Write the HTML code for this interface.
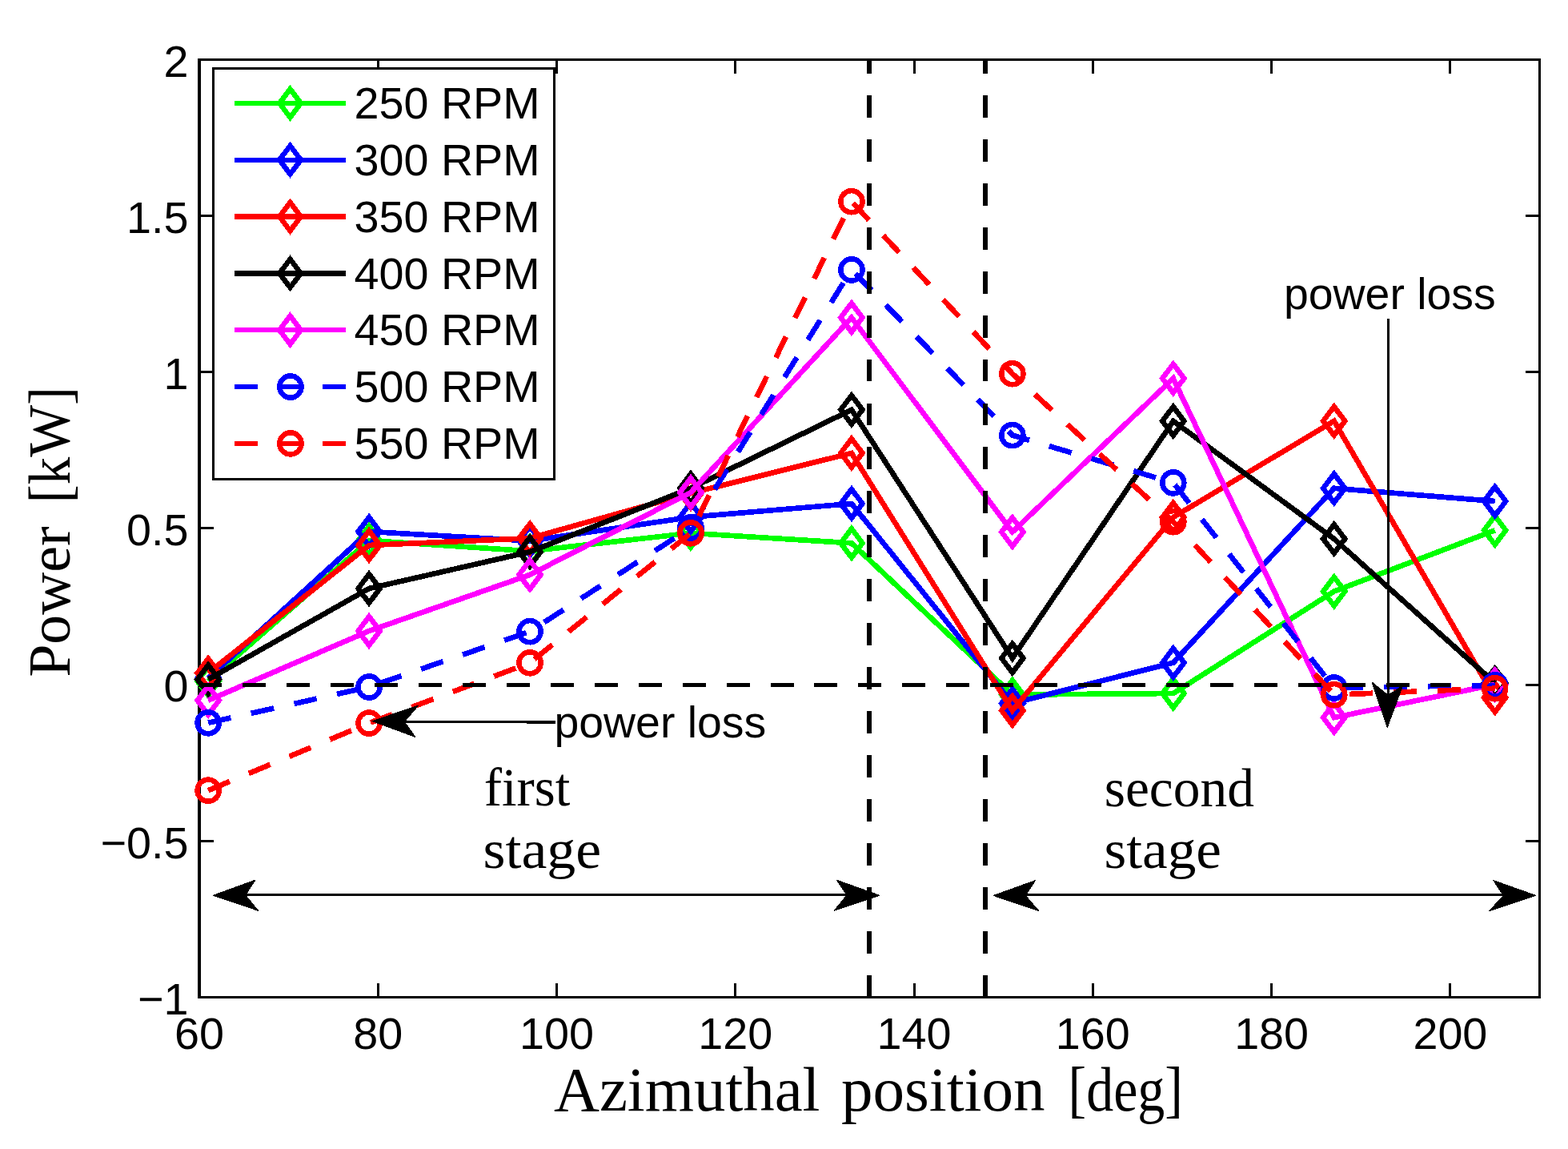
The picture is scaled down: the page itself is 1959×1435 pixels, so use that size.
<!DOCTYPE html>
<html><head><meta charset="utf-8"><title>Power vs azimuthal position</title>
<style>html,body{margin:0;padding:0;background:#fff;}body{width:1959px;height:1435px;overflow:hidden;}svg{display:block;}</style>
</head><body>
<svg shape-rendering="crispEdges" width="1959" height="1435" viewBox="0 0 1959 1435">
<rect x="0" y="0" width="1959" height="1435" fill="#fff"/>
<g stroke="#000" stroke-width="3.2" fill="none" stroke-linecap="square">
<rect x="249" y="74.4" width="1674.5" height="1171.1"/>
</g>
<g stroke="#000" stroke-width="3" fill="none">
<line x1="249" y1="1245.5" x2="249" y2="1227.7"/>
<line x1="249" y1="74.4" x2="249" y2="92.2"/>
<line x1="472.27" y1="1245.5" x2="472.27" y2="1227.7"/>
<line x1="472.27" y1="74.4" x2="472.27" y2="92.2"/>
<line x1="695.53" y1="1245.5" x2="695.53" y2="1227.7"/>
<line x1="695.53" y1="74.4" x2="695.53" y2="92.2"/>
<line x1="918.8" y1="1245.5" x2="918.8" y2="1227.7"/>
<line x1="918.8" y1="74.4" x2="918.8" y2="92.2"/>
<line x1="1142.07" y1="1245.5" x2="1142.07" y2="1227.7"/>
<line x1="1142.07" y1="74.4" x2="1142.07" y2="92.2"/>
<line x1="1365.33" y1="1245.5" x2="1365.33" y2="1227.7"/>
<line x1="1365.33" y1="74.4" x2="1365.33" y2="92.2"/>
<line x1="1588.6" y1="1245.5" x2="1588.6" y2="1227.7"/>
<line x1="1588.6" y1="74.4" x2="1588.6" y2="92.2"/>
<line x1="1811.87" y1="1245.5" x2="1811.87" y2="1227.7"/>
<line x1="1811.87" y1="74.4" x2="1811.87" y2="92.2"/>
<line x1="249" y1="1245.5" x2="266.8" y2="1245.5"/>
<line x1="1923.5" y1="1245.5" x2="1905.7" y2="1245.5"/>
<line x1="249" y1="1050.32" x2="266.8" y2="1050.32"/>
<line x1="1923.5" y1="1050.32" x2="1905.7" y2="1050.32"/>
<line x1="249" y1="855.13" x2="266.8" y2="855.13"/>
<line x1="1923.5" y1="855.13" x2="1905.7" y2="855.13"/>
<line x1="249" y1="659.95" x2="266.8" y2="659.95"/>
<line x1="1923.5" y1="659.95" x2="1905.7" y2="659.95"/>
<line x1="249" y1="464.77" x2="266.8" y2="464.77"/>
<line x1="1923.5" y1="464.77" x2="1905.7" y2="464.77"/>
<line x1="249" y1="269.58" x2="266.8" y2="269.58"/>
<line x1="1923.5" y1="269.58" x2="1905.7" y2="269.58"/>
<line x1="249" y1="74.4" x2="266.8" y2="74.4"/>
<line x1="1923.5" y1="74.4" x2="1905.7" y2="74.4"/>
</g>
<g font-family="'Liberation Sans', Arial, Helvetica, sans-serif" font-size="55.7" fill="#000">
<text x="249" y="1310.3" text-anchor="middle">60</text>
<text x="472.27" y="1310.3" text-anchor="middle">80</text>
<text x="695.53" y="1310.3" text-anchor="middle">100</text>
<text x="918.8" y="1310.3" text-anchor="middle">120</text>
<text x="1142.07" y="1310.3" text-anchor="middle">140</text>
<text x="1365.33" y="1310.3" text-anchor="middle">160</text>
<text x="1588.6" y="1310.3" text-anchor="middle">180</text>
<text x="1811.87" y="1310.3" text-anchor="middle">200</text>
<text x="235.5" y="95.6" text-anchor="end">2</text>
<text x="235.5" y="290.78" text-anchor="end">1.5</text>
<text x="235.5" y="485.97" text-anchor="end">1</text>
<text x="235.5" y="681.15" text-anchor="end">0.5</text>
<text x="235.5" y="876.33" text-anchor="end">0</text>
<text x="235.5" y="1071.52" text-anchor="end">−0.5</text>
<text x="235.5" y="1266.7" text-anchor="end">−1</text>
</g>
<g font-family="'Liberation Serif', 'Times New Roman', serif" font-size="78" fill="#000">
<text x="692" y="1386.5" textLength="332.5" lengthAdjust="spacingAndGlyphs">Azimuthal</text>
<text x="1050.9" y="1386.5" textLength="254.7" lengthAdjust="spacingAndGlyphs">position</text>
<text x="1334.6" y="1386.5" textLength="143.3" lengthAdjust="spacingAndGlyphs">[deg]</text>
</g>
<g transform="translate(86.6 845.6) rotate(-90)" font-family="'Liberation Serif', 'Times New Roman', serif" font-size="74" fill="#000">
<text x="0" y="0" textLength="188.2" lengthAdjust="spacingAndGlyphs">Power</text>
<text x="217.45" y="0" textLength="145.2" lengthAdjust="spacingAndGlyphs">[kW]</text>
</g>
<polyline points="260.16,850.6 461.1,675 662.04,688.3 862.98,665.8 1063.92,678.3 1264.86,867.6 1465.8,866 1666.74,738.6 1867.68,662.3" fill="none" stroke="#00ff00" stroke-width="6.7" stroke-linejoin="miter" stroke-linecap="butt"/>
<path d="M260.16 832.65L273.76 850.6L260.16 868.55L246.56 850.6Z" fill="none" stroke="#00ff00" stroke-width="6.5" stroke-linejoin="miter" stroke-miterlimit="10"/>
<path d="M461.1 657.05L474.7 675L461.1 692.95L447.5 675Z" fill="none" stroke="#00ff00" stroke-width="6.5" stroke-linejoin="miter" stroke-miterlimit="10"/>
<path d="M662.04 670.35L675.64 688.3L662.04 706.25L648.44 688.3Z" fill="none" stroke="#00ff00" stroke-width="6.5" stroke-linejoin="miter" stroke-miterlimit="10"/>
<path d="M862.98 647.85L876.58 665.8L862.98 683.75L849.38 665.8Z" fill="none" stroke="#00ff00" stroke-width="6.5" stroke-linejoin="miter" stroke-miterlimit="10"/>
<path d="M1063.92 660.35L1077.52 678.3L1063.92 696.25L1050.32 678.3Z" fill="none" stroke="#00ff00" stroke-width="6.5" stroke-linejoin="miter" stroke-miterlimit="10"/>
<path d="M1264.86 849.65L1278.46 867.6L1264.86 885.55L1251.26 867.6Z" fill="none" stroke="#00ff00" stroke-width="6.5" stroke-linejoin="miter" stroke-miterlimit="10"/>
<path d="M1465.8 848.05L1479.4 866L1465.8 883.95L1452.2 866Z" fill="none" stroke="#00ff00" stroke-width="6.5" stroke-linejoin="miter" stroke-miterlimit="10"/>
<path d="M1666.74 720.65L1680.34 738.6L1666.74 756.55L1653.14 738.6Z" fill="none" stroke="#00ff00" stroke-width="6.5" stroke-linejoin="miter" stroke-miterlimit="10"/>
<path d="M1867.68 644.35L1881.28 662.3L1867.68 680.25L1854.08 662.3Z" fill="none" stroke="#00ff00" stroke-width="6.5" stroke-linejoin="miter" stroke-miterlimit="10"/>
<polyline points="260.16,847 461.1,663.9 662.04,675.5 862.98,645.8 1063.92,629 1264.86,878.5 1465.8,827.7 1666.74,609.8 1867.68,626" fill="none" stroke="#0000ff" stroke-width="6.7" stroke-linejoin="miter" stroke-linecap="butt"/>
<path d="M260.16 829.05L273.76 847L260.16 864.95L246.56 847Z" fill="none" stroke="#0000ff" stroke-width="6.5" stroke-linejoin="miter" stroke-miterlimit="10"/>
<path d="M461.1 645.95L474.7 663.9L461.1 681.85L447.5 663.9Z" fill="none" stroke="#0000ff" stroke-width="6.5" stroke-linejoin="miter" stroke-miterlimit="10"/>
<path d="M662.04 657.55L675.64 675.5L662.04 693.45L648.44 675.5Z" fill="none" stroke="#0000ff" stroke-width="6.5" stroke-linejoin="miter" stroke-miterlimit="10"/>
<path d="M862.98 627.85L876.58 645.8L862.98 663.75L849.38 645.8Z" fill="none" stroke="#0000ff" stroke-width="6.5" stroke-linejoin="miter" stroke-miterlimit="10"/>
<path d="M1063.92 611.05L1077.52 629L1063.92 646.95L1050.32 629Z" fill="none" stroke="#0000ff" stroke-width="6.5" stroke-linejoin="miter" stroke-miterlimit="10"/>
<path d="M1264.86 860.55L1278.46 878.5L1264.86 896.45L1251.26 878.5Z" fill="none" stroke="#0000ff" stroke-width="6.5" stroke-linejoin="miter" stroke-miterlimit="10"/>
<path d="M1465.8 809.75L1479.4 827.7L1465.8 845.65L1452.2 827.7Z" fill="none" stroke="#0000ff" stroke-width="6.5" stroke-linejoin="miter" stroke-miterlimit="10"/>
<path d="M1666.74 591.85L1680.34 609.8L1666.74 627.75L1653.14 609.8Z" fill="none" stroke="#0000ff" stroke-width="6.5" stroke-linejoin="miter" stroke-miterlimit="10"/>
<path d="M1867.68 608.05L1881.28 626L1867.68 643.95L1854.08 626Z" fill="none" stroke="#0000ff" stroke-width="6.5" stroke-linejoin="miter" stroke-miterlimit="10"/>
<polyline points="260.16,840.5 461.1,681 662.04,672.2 862.98,615.9 1063.92,565.9 1264.86,887.4 1465.8,646 1666.74,525.8 1867.68,871.3" fill="none" stroke="#ff0000" stroke-width="6.7" stroke-linejoin="miter" stroke-linecap="butt"/>
<path d="M260.16 822.55L273.76 840.5L260.16 858.45L246.56 840.5Z" fill="none" stroke="#ff0000" stroke-width="6.5" stroke-linejoin="miter" stroke-miterlimit="10"/>
<path d="M461.1 663.05L474.7 681L461.1 698.95L447.5 681Z" fill="none" stroke="#ff0000" stroke-width="6.5" stroke-linejoin="miter" stroke-miterlimit="10"/>
<path d="M662.04 654.25L675.64 672.2L662.04 690.15L648.44 672.2Z" fill="none" stroke="#ff0000" stroke-width="6.5" stroke-linejoin="miter" stroke-miterlimit="10"/>
<path d="M862.98 597.95L876.58 615.9L862.98 633.85L849.38 615.9Z" fill="none" stroke="#ff0000" stroke-width="6.5" stroke-linejoin="miter" stroke-miterlimit="10"/>
<path d="M1063.92 547.95L1077.52 565.9L1063.92 583.85L1050.32 565.9Z" fill="none" stroke="#ff0000" stroke-width="6.5" stroke-linejoin="miter" stroke-miterlimit="10"/>
<path d="M1264.86 869.45L1278.46 887.4L1264.86 905.35L1251.26 887.4Z" fill="none" stroke="#ff0000" stroke-width="6.5" stroke-linejoin="miter" stroke-miterlimit="10"/>
<path d="M1465.8 628.05L1479.4 646L1465.8 663.95L1452.2 646Z" fill="none" stroke="#ff0000" stroke-width="6.5" stroke-linejoin="miter" stroke-miterlimit="10"/>
<path d="M1666.74 507.85L1680.34 525.8L1666.74 543.75L1653.14 525.8Z" fill="none" stroke="#ff0000" stroke-width="6.5" stroke-linejoin="miter" stroke-miterlimit="10"/>
<path d="M1867.68 853.35L1881.28 871.3L1867.68 889.25L1854.08 871.3Z" fill="none" stroke="#ff0000" stroke-width="6.5" stroke-linejoin="miter" stroke-miterlimit="10"/>
<polyline points="260.16,848.5 461.1,735 662.04,689.2 862.98,609.8 1063.92,511.8 1264.86,822 1465.8,525.9 1666.74,673 1867.68,853" fill="none" stroke="#000000" stroke-width="6.7" stroke-linejoin="miter" stroke-linecap="butt"/>
<path d="M260.16 830.55L273.76 848.5L260.16 866.45L246.56 848.5Z" fill="none" stroke="#000000" stroke-width="6.5" stroke-linejoin="miter" stroke-miterlimit="10"/>
<path d="M461.1 717.05L474.7 735L461.1 752.95L447.5 735Z" fill="none" stroke="#000000" stroke-width="6.5" stroke-linejoin="miter" stroke-miterlimit="10"/>
<path d="M662.04 671.25L675.64 689.2L662.04 707.15L648.44 689.2Z" fill="none" stroke="#000000" stroke-width="6.5" stroke-linejoin="miter" stroke-miterlimit="10"/>
<path d="M862.98 591.85L876.58 609.8L862.98 627.75L849.38 609.8Z" fill="none" stroke="#000000" stroke-width="6.5" stroke-linejoin="miter" stroke-miterlimit="10"/>
<path d="M1063.92 493.85L1077.52 511.8L1063.92 529.75L1050.32 511.8Z" fill="none" stroke="#000000" stroke-width="6.5" stroke-linejoin="miter" stroke-miterlimit="10"/>
<path d="M1264.86 804.05L1278.46 822L1264.86 839.95L1251.26 822Z" fill="none" stroke="#000000" stroke-width="6.5" stroke-linejoin="miter" stroke-miterlimit="10"/>
<path d="M1465.8 507.95L1479.4 525.9L1465.8 543.85L1452.2 525.9Z" fill="none" stroke="#000000" stroke-width="6.5" stroke-linejoin="miter" stroke-miterlimit="10"/>
<path d="M1666.74 655.05L1680.34 673L1666.74 690.95L1653.14 673Z" fill="none" stroke="#000000" stroke-width="6.5" stroke-linejoin="miter" stroke-miterlimit="10"/>
<path d="M1867.68 835.05L1881.28 853L1867.68 870.95L1854.08 853Z" fill="none" stroke="#000000" stroke-width="6.5" stroke-linejoin="miter" stroke-miterlimit="10"/>
<polyline points="260.16,874.7 461.1,788 662.04,717.8 862.98,615 1063.92,396.7 1264.86,664.4 1465.8,472.6 1666.74,896.2 1867.68,854.9" fill="none" stroke="#ff00ff" stroke-width="6.7" stroke-linejoin="miter" stroke-linecap="butt"/>
<path d="M260.16 856.75L273.76 874.7L260.16 892.65L246.56 874.7Z" fill="none" stroke="#ff00ff" stroke-width="6.5" stroke-linejoin="miter" stroke-miterlimit="10"/>
<path d="M461.1 770.05L474.7 788L461.1 805.95L447.5 788Z" fill="none" stroke="#ff00ff" stroke-width="6.5" stroke-linejoin="miter" stroke-miterlimit="10"/>
<path d="M662.04 699.85L675.64 717.8L662.04 735.75L648.44 717.8Z" fill="none" stroke="#ff00ff" stroke-width="6.5" stroke-linejoin="miter" stroke-miterlimit="10"/>
<path d="M862.98 597.05L876.58 615L862.98 632.95L849.38 615Z" fill="none" stroke="#ff00ff" stroke-width="6.5" stroke-linejoin="miter" stroke-miterlimit="10"/>
<path d="M1063.92 378.75L1077.52 396.7L1063.92 414.65L1050.32 396.7Z" fill="none" stroke="#ff00ff" stroke-width="6.5" stroke-linejoin="miter" stroke-miterlimit="10"/>
<path d="M1264.86 646.45L1278.46 664.4L1264.86 682.35L1251.26 664.4Z" fill="none" stroke="#ff00ff" stroke-width="6.5" stroke-linejoin="miter" stroke-miterlimit="10"/>
<path d="M1465.8 454.65L1479.4 472.6L1465.8 490.55L1452.2 472.6Z" fill="none" stroke="#ff00ff" stroke-width="6.5" stroke-linejoin="miter" stroke-miterlimit="10"/>
<path d="M1666.74 878.25L1680.34 896.2L1666.74 914.15L1653.14 896.2Z" fill="none" stroke="#ff00ff" stroke-width="6.5" stroke-linejoin="miter" stroke-miterlimit="10"/>
<path d="M1867.68 836.95L1881.28 854.9L1867.68 872.85L1854.08 854.9Z" fill="none" stroke="#ff00ff" stroke-width="6.5" stroke-linejoin="miter" stroke-miterlimit="10"/>
<polyline points="260.16,902.8 461.1,858 662.04,788.7 862.98,659 1063.92,336.9 1264.86,543.6 1465.8,602.9 1666.74,859 1867.68,855.9" fill="none" stroke="#0000ff" stroke-width="6.7" stroke-linejoin="miter" stroke-linecap="butt" stroke-dasharray="29 25.94"/>
<circle cx="260.16" cy="902.8" r="13.6" fill="none" stroke="#0000ff" stroke-width="6.5"/>
<circle cx="461.1" cy="858" r="13.6" fill="none" stroke="#0000ff" stroke-width="6.5"/>
<circle cx="662.04" cy="788.7" r="13.6" fill="none" stroke="#0000ff" stroke-width="6.5"/>
<circle cx="862.98" cy="659" r="13.6" fill="none" stroke="#0000ff" stroke-width="6.5"/>
<circle cx="1063.92" cy="336.9" r="13.6" fill="none" stroke="#0000ff" stroke-width="6.5"/>
<circle cx="1264.86" cy="543.6" r="13.6" fill="none" stroke="#0000ff" stroke-width="6.5"/>
<circle cx="1465.8" cy="602.9" r="13.6" fill="none" stroke="#0000ff" stroke-width="6.5"/>
<circle cx="1666.74" cy="859" r="13.6" fill="none" stroke="#0000ff" stroke-width="6.5"/>
<circle cx="1867.68" cy="855.9" r="13.6" fill="none" stroke="#0000ff" stroke-width="6.5"/>
<polyline points="260.16,987.2 461.1,903.1 662.04,827.8 862.98,665.8 1063.92,251.7 1264.86,466.7 1465.8,651.7 1666.74,867.7 1867.68,859.7" fill="none" stroke="#ff0000" stroke-width="6.7" stroke-linejoin="miter" stroke-linecap="butt" stroke-dasharray="29 25.94"/>
<circle cx="260.16" cy="987.2" r="13.6" fill="none" stroke="#ff0000" stroke-width="6.5"/>
<circle cx="461.1" cy="903.1" r="13.6" fill="none" stroke="#ff0000" stroke-width="6.5"/>
<circle cx="662.04" cy="827.8" r="13.6" fill="none" stroke="#ff0000" stroke-width="6.5"/>
<circle cx="862.98" cy="665.8" r="13.6" fill="none" stroke="#ff0000" stroke-width="6.5"/>
<circle cx="1063.92" cy="251.7" r="13.6" fill="none" stroke="#ff0000" stroke-width="6.5"/>
<circle cx="1264.86" cy="466.7" r="13.6" fill="none" stroke="#ff0000" stroke-width="6.5"/>
<circle cx="1465.8" cy="651.7" r="13.6" fill="none" stroke="#ff0000" stroke-width="6.5"/>
<circle cx="1666.74" cy="867.7" r="13.6" fill="none" stroke="#ff0000" stroke-width="6.5"/>
<circle cx="1867.68" cy="859.7" r="13.6" fill="none" stroke="#ff0000" stroke-width="6.5"/>
<g stroke="#000" fill="none">
<line x1="248.3" y1="855.13" x2="1811.87" y2="855.13" stroke-width="5" stroke-dasharray="29 25.94"/>
<line x1="1086.25" y1="1245.5" x2="1086.25" y2="74.4" stroke-width="6" stroke-dasharray="27.9 27.03"/>
<line x1="1231.37" y1="1245.5" x2="1231.37" y2="74.4" stroke-width="6" stroke-dasharray="27.9 27.03"/>
</g>
<rect x="266.5" y="85.5" width="425.8" height="512.8" fill="#fff" stroke="#000" stroke-width="3"/>
<line x1="293" y1="128.9" x2="432" y2="128.9" stroke="#00ff00" stroke-width="6.4"/>
<path d="M362.5 111.25L375.9 128.9L362.5 146.55L349.1 128.9Z" fill="none" stroke="#00ff00" stroke-width="6.5" stroke-linejoin="miter" stroke-miterlimit="10"/>
<text x="442.5" y="148.1" font-family="'Liberation Sans', Arial, Helvetica, sans-serif" font-size="55.7" fill="#000">250 RPM</text>
<line x1="293" y1="199.73" x2="432" y2="199.73" stroke="#0000ff" stroke-width="6.4"/>
<path d="M362.5 182.08L375.9 199.73L362.5 217.38L349.1 199.73Z" fill="none" stroke="#0000ff" stroke-width="6.5" stroke-linejoin="miter" stroke-miterlimit="10"/>
<text x="442.5" y="218.93" font-family="'Liberation Sans', Arial, Helvetica, sans-serif" font-size="55.7" fill="#000">300 RPM</text>
<line x1="293" y1="270.56" x2="432" y2="270.56" stroke="#ff0000" stroke-width="6.4"/>
<path d="M362.5 252.91L375.9 270.56L362.5 288.21L349.1 270.56Z" fill="none" stroke="#ff0000" stroke-width="6.5" stroke-linejoin="miter" stroke-miterlimit="10"/>
<text x="442.5" y="289.76" font-family="'Liberation Sans', Arial, Helvetica, sans-serif" font-size="55.7" fill="#000">350 RPM</text>
<line x1="293" y1="341.39" x2="432" y2="341.39" stroke="#000000" stroke-width="6.4"/>
<path d="M362.5 323.74L375.9 341.39L362.5 359.04L349.1 341.39Z" fill="none" stroke="#000000" stroke-width="6.5" stroke-linejoin="miter" stroke-miterlimit="10"/>
<text x="442.5" y="360.59" font-family="'Liberation Sans', Arial, Helvetica, sans-serif" font-size="55.7" fill="#000">400 RPM</text>
<line x1="293" y1="412.22" x2="432" y2="412.22" stroke="#ff00ff" stroke-width="6.4"/>
<path d="M362.5 394.57L375.9 412.22L362.5 429.87L349.1 412.22Z" fill="none" stroke="#ff00ff" stroke-width="6.5" stroke-linejoin="miter" stroke-miterlimit="10"/>
<text x="442.5" y="431.42" font-family="'Liberation Sans', Arial, Helvetica, sans-serif" font-size="55.7" fill="#000">450 RPM</text>
<line x1="293" y1="483.05" x2="432" y2="483.05" stroke="#0000ff" stroke-width="6.4" stroke-dasharray="29 25.94"/>
<circle cx="362.9" cy="483.05" r="13.6" fill="none" stroke="#0000ff" stroke-width="6.5"/>
<text x="442.5" y="502.25" font-family="'Liberation Sans', Arial, Helvetica, sans-serif" font-size="55.7" fill="#000">500 RPM</text>
<line x1="293" y1="553.88" x2="432" y2="553.88" stroke="#ff0000" stroke-width="6.4" stroke-dasharray="29 25.94"/>
<circle cx="362.9" cy="553.88" r="13.6" fill="none" stroke="#ff0000" stroke-width="6.5"/>
<text x="442.5" y="573.08" font-family="'Liberation Sans', Arial, Helvetica, sans-serif" font-size="55.7" fill="#000">550 RPM</text>
<line x1="694" y1="902" x2="500" y2="901.5" stroke="#000" stroke-width="3.2"/>
<polygon points="465,900.6 522.7,881.2 505.3,901.3 518.9,920.5" fill="#000" stroke="#000" stroke-width="1" stroke-linejoin="round"/>
<text x="692.5" y="920.6" font-family="'Liberation Sans', Arial, Helvetica, sans-serif" font-size="55.4" fill="#000">power loss</text>
<line x1="1734.6" y1="398" x2="1734.4" y2="870" stroke="#000" stroke-width="3"/>
<polygon points="1733.2,908.7 1714.1,852 1734.2,868.3 1752.7,856" fill="#000" stroke="#000" stroke-width="1" stroke-linejoin="round"/>
<text x="1604" y="386.2" font-family="'Liberation Sans', Arial, Helvetica, sans-serif" font-size="55.4" fill="#000">power loss</text>
<line x1="300" y1="1117.5" x2="1065" y2="1117.5" stroke="#000" stroke-width="3"/>
<polygon points="266.1,1118.3 318.9,1099.1 306.7,1118 322.7,1137.4" fill="#000" stroke="#000" stroke-width="1" stroke-linejoin="round"/>
<polygon points="1098.9,1118.3 1045.3,1099.1 1058,1118 1042.1,1137.4" fill="#000" stroke="#000" stroke-width="1" stroke-linejoin="round"/>
<line x1="1275" y1="1117.5" x2="1885" y2="1117.5" stroke="#000" stroke-width="3"/>
<polygon points="1241.1,1118.5 1293.5,1099.6 1281.3,1118.5 1297.8,1137.6" fill="#000" stroke="#000" stroke-width="1" stroke-linejoin="round"/>
<polygon points="1918.9,1118.4 1865.9,1099.6 1878.2,1118.4 1860.9,1137.6" fill="#000" stroke="#000" stroke-width="1" stroke-linejoin="round"/>
<g font-family="'Liberation Serif', 'Times New Roman', serif" font-size="67" fill="#000">
<text x="604.7" y="1006" textLength="107.5" lengthAdjust="spacingAndGlyphs">first</text>
<text x="603.5" y="1083.7" textLength="147.6" lengthAdjust="spacingAndGlyphs">stage</text>
<text x="1379.7" y="1006.8" textLength="187.2" lengthAdjust="spacingAndGlyphs">second</text>
<text x="1379.5" y="1084" textLength="146.5" lengthAdjust="spacingAndGlyphs">stage</text>
</g>
</svg>
</body></html>
